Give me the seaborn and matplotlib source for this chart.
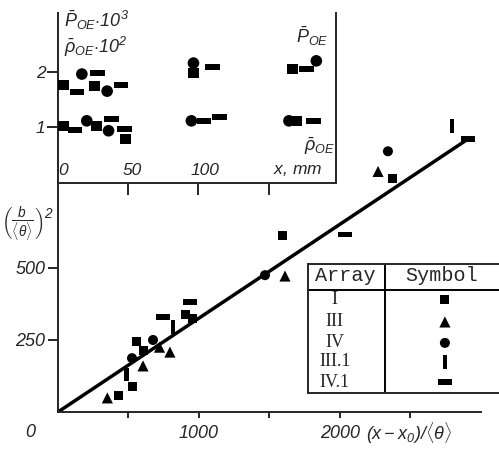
import matplotlib
matplotlib.use("Agg")
import matplotlib.pyplot as plt
import seaborn as sns
import numpy as np

# main panel: (b/<theta>)^2 against (x - x0)/<theta>, one set of points per array
arr_I_x = [427, 532, 560, 610, 901, 957, 1589, 2369]
arr_I_y = [59, 87, 243, 212, 337, 326, 613, 810]
arr_III_x = [350, 603, 720, 794, 1610, 2270]
arr_III_y = [49, 160, 225, 208, 472, 835]
arr_IV_x = [525, 674, 1468, 2340]
arr_IV_y = [187, 250, 475, 905]
arr_III1_x = [487, 816, 2794]
arr_III1_y = [130, 295, 993]
arr_IV1_x = [745, 936, 2035, 2908]
arr_IV1_y = [330, 382, 616, 947]

# straight line through the origin
fit_x = [0, 2900]
fit_y = [0, 945]

# inset: P_OE*10^3 (upper group) and rho_OE*10^2 (lower group) against x, mm
in_P_sq_x = [4, 26, 96.5, 167]
in_P_sq_y = [1.76, 1.74, 1.98, 2.05]
in_P_dash_x = [13.5, 28, 45, 110, 177]
in_P_dash_y = [1.63, 1.98, 1.76, 2.09, 2.05]
in_P_circ_x = [17, 35, 96.5, 184]
in_P_circ_y = [1.96, 1.65, 2.16, 2.2]
in_r_sq_x = [4, 27.5, 48, 170]
in_r_sq_y = [1.02, 1.02, 0.78, 1.11]
in_r_dash_x = [12, 38, 47.5, 104, 115, 182]
in_r_dash_y = [0.95, 1.15, 0.96, 1.11, 1.18, 1.11]
in_r_circ_x = [20.5, 36, 95, 164.5]
in_r_circ_y = [1.11, 0.93, 1.11, 1.11]

table_names = ["I", "III", "IV", "III.1", "IV.1"]

# marker shapes: plain filled ones plus a vertical bar and a horizontal dash
vbar = [(-0.35, -1), (0.35, -1), (0.35, 1), (-0.35, 1), (-0.35, -1)]
hdash = [(-1, -0.4), (1, -0.4), (1, 0.4), (-1, 0.4), (-1, -0.4)]
styles = {
    "I": ("s", 42),
    "III": ("^", 64),
    "IV": ("o", 52),
    "III.1": (vbar, 90),
    "IV.1": (hdash, 100),
}

sns.set_style("ticks")
plt.rcParams["font.family"] = ["Liberation Sans", "DejaVu Sans"]
plt.rcParams["font.style"] = "italic"
plt.rcParams["mathtext.fontset"] = "custom"
plt.rcParams["mathtext.rm"] = "Liberation Sans:italic"
plt.rcParams["mathtext.it"] = "Liberation Sans:italic"
plt.rcParams["mathtext.bf"] = "Liberation Sans:bold:italic"
plt.rcParams["axes.linewidth"] = 1.4

fig = plt.figure(figsize=(4.99, 4.53), dpi=100)
ax = fig.add_axes([0.1162, 0.0905, 0.8477, 0.8808])

sns.lineplot(x=fit_x, y=fit_y, color="black", lw=2.5, ax=ax)

main_sets = [
    ("I", arr_I_x, arr_I_y),
    ("III", arr_III_x, arr_III_y),
    ("IV", arr_IV_x, arr_IV_y),
    ("III.1", arr_III1_x, arr_III1_y),
    ("IV.1", arr_IV1_x, arr_IV1_y),
]
for name, xs, ys in main_sets:
    m, s = styles[name]
    sns.scatterplot(x=xs, y=ys, marker=m, s=s, color="black",
                    edgecolor="none", linewidth=0, ax=ax, zorder=3)

ax.set_xlim(0, 3000)
ax.set_ylim(0, 1385)
sns.despine(ax=ax)
ax.set_xticks([500, 1000, 1500, 2000, 2500])
ax.set_xticklabels(["", "1000", "", "2000", ""])
ax.set_yticks([250, 500])
ax.set_yticklabels(["250", "500"])
ax.tick_params(axis="x", direction="out", length=4.5, width=1.4, pad=5, labelsize=13)
ax.tick_params(axis="y", direction="out", length=7, width=1.4, pad=2, labelsize=13)
ax.text(-200, -70, "0", fontsize=13, ha="center", va="center", clip_on=False)
ax.text(2185, -72, r"$(x-x_0)/\langle\theta\rangle$", fontsize=13,
        ha="left", va="center", clip_on=False)
ax.text(-215, 650, r"$\left(\frac{b}{\langle\theta\rangle}\right)^2$",
        fontsize=14, ha="center", va="center", clip_on=False)

# inset panel
ax_in = fig.add_axes([0.1162, 0.596, 0.5571, 0.3753])
ax_in.set_facecolor("white")
in_sets = [
    ("I", in_P_sq_x, in_P_sq_y),
    ("IV.1", in_P_dash_x, in_P_dash_y),
    ("IV", in_P_circ_x, in_P_circ_y),
    ("I", in_r_sq_x, in_r_sq_y),
    ("IV.1", in_r_dash_x, in_r_dash_y),
    ("IV", in_r_circ_x, in_r_circ_y),
]
in_sizes = {"I": 55, "IV.1": 110, "IV": 70}
for name, xs, ys in in_sets:
    m = styles[name][0]
    sns.scatterplot(x=xs, y=ys, marker=m, s=in_sizes[name], color="black",
                    edgecolor="none", linewidth=0, ax=ax_in, zorder=3)
ax_in.set_xlim(0, 198)
ax_in.set_ylim(-0.02, 3.07)
ax_in.spines["top"].set_visible(False)
ax_in.set_xticks([50, 100, 150])
ax_in.set_xticklabels(["", "", ""])
ax_in.set_yticks([1, 2])
ax_in.set_yticklabels(["1", "2"])
ax_in.tick_params(axis="x", direction="out", length=8.5, width=1.4, labelbottom=False)
ax_in.tick_params(axis="y", direction="out", length=8, width=1.4, pad=1, labelsize=12.5)
for xv, lab in [(3.6, "0"), (53, "50"), (105, "100"), (171, r"$x$, mm")]:
    ax_in.text(xv, 0.2, lab, fontsize=12.5, ha="center", va="center")
ax_in.text(4, 2.93, r"$\bar{P}_{OE}{\cdot}10^3$", fontsize=13, ha="left", va="center")
ax_in.text(4, 2.45, r"$\bar{\rho}_{OE}{\cdot}10^2$", fontsize=13, ha="left", va="center")
ax_in.text(181, 2.65, r"$\bar{P}_{OE}$", fontsize=13, ha="center", va="center")
ax_in.text(186, 0.64, r"$\bar{\rho}_{OE}$", fontsize=13, ha="center", va="center")

# legend table
ax_t = fig.add_axes([0.617, 0.1325, 0.383, 0.285])
ax_t.set_xlim(0, 1)
ax_t.set_ylim(0, 1)
ax_t.set_xticks([])
ax_t.set_yticks([])
ax_t.spines["right"].set_visible(False)
ax_t.axhline(0.798, color="black", lw=1.4)
ax_t.axvline(0.403, color="black", lw=1.4)
ax_t.text(0.194, 0.907, "Array", family="Liberation Mono", style="normal",
          fontsize=14.5, ha="center", va="center")
ax_t.text(0.70, 0.907, "Symbol", family="Liberation Mono", style="normal",
          fontsize=14.5, ha="center", va="center")
row_y = [0.721, 0.55, 0.388, 0.24, 0.085]
for name, ry in zip(table_names, row_y):
    ax_t.text(0.141, ry, name, family="Liberation Serif", style="normal",
              fontsize=13, ha="center", va="center")
    m, s = styles[name]
    sns.scatterplot(x=[0.717], y=[ry], marker=m, s=s, color="black",
                    edgecolor="none", linewidth=0, ax=ax_t)
ax_t.set_xlim(0, 1)
ax_t.set_ylim(0, 1)

fig.savefig("out.png", dpi=100)
